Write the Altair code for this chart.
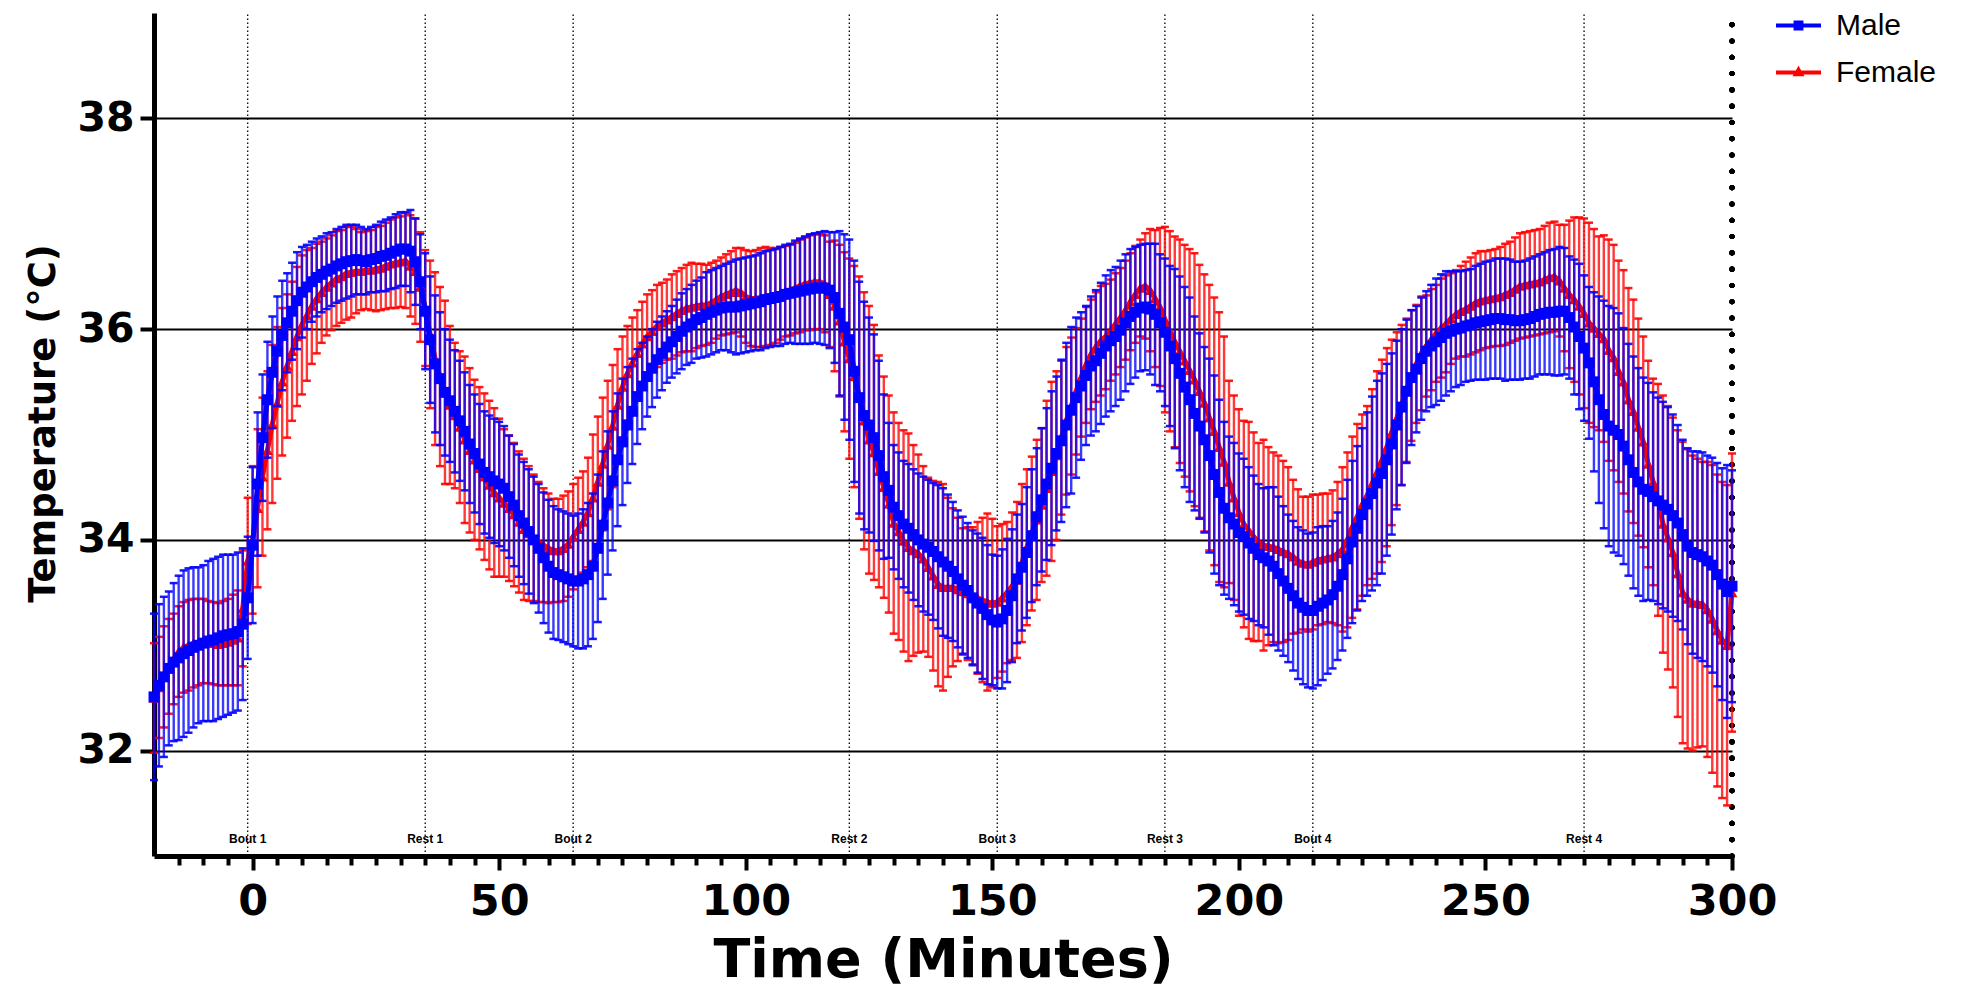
import altair as alt
import pandas as pd

# ---------------- data ----------------
TIME_START = -20
TIME_END = 300
SERIES = ["Male", "Female"]

MALE_MEAN = [
    32.51, 32.62, 32.70, 32.78, 32.84, 32.88, 32.92, 32.95, 32.98, 33.00,
    33.02, 33.04, 33.05, 33.07, 33.09, 33.10, 33.11, 33.13, 33.20, 33.45,
    33.95, 34.53, 34.97, 35.33, 35.59, 35.79, 35.94, 36.06, 36.17, 36.27,
    36.35, 36.40, 36.45, 36.49, 36.52, 36.55, 36.57, 36.60, 36.62, 36.64,
    36.65, 36.66, 36.65, 36.64, 36.66, 36.67, 36.69, 36.70, 36.72, 36.74,
    36.76, 36.76, 36.74, 36.64, 36.45, 36.17, 35.90, 35.67, 35.53, 35.40,
    35.32, 35.22, 35.13, 35.03, 34.91, 34.82, 34.72, 34.64, 34.60, 34.56,
    34.53, 34.49, 34.41, 34.33, 34.23, 34.16, 34.08, 34.00, 33.92, 33.83,
    33.75, 33.69, 33.67, 33.65, 33.63, 33.61, 33.61, 33.63, 33.67, 33.75,
    33.92, 34.14, 34.35, 34.56, 34.76, 34.93, 35.09, 35.22, 35.36, 35.46,
    35.55, 35.63, 35.71, 35.77, 35.83, 35.88, 35.93, 35.98, 36.02, 36.05,
    36.09, 36.11, 36.14, 36.16, 36.18, 36.20, 36.21, 36.21, 36.21, 36.22,
    36.23, 36.24, 36.25, 36.26, 36.28, 36.29, 36.30, 36.31, 36.33, 36.34,
    36.35, 36.36, 36.37, 36.38, 36.39, 36.39, 36.39, 36.37, 36.30, 36.15,
    36.02, 35.90, 35.60, 35.35, 35.18, 35.09, 34.97, 34.80, 34.60, 34.47,
    34.31, 34.23, 34.15, 34.11, 34.05, 34.00, 33.96, 33.93, 33.89, 33.84,
    33.79, 33.75, 33.70, 33.63, 33.57, 33.52, 33.45, 33.40, 33.35, 33.29,
    33.24, 33.22, 33.25, 33.33, 33.47, 33.63, 33.74, 33.88, 34.04, 34.22,
    34.38, 34.53, 34.68, 34.82, 34.94, 35.09, 35.23, 35.35, 35.46, 35.56,
    35.65, 35.70, 35.77, 35.84, 35.89, 35.93, 35.99, 36.06, 36.12, 36.16,
    36.20, 36.21, 36.19, 36.14, 36.06, 35.97, 35.84, 35.72, 35.58, 35.45,
    35.33, 35.20, 35.08, 34.95, 34.80, 34.62, 34.45, 34.30, 34.21, 34.15,
    34.07, 34.03, 33.97, 33.92, 33.86, 33.83, 33.80, 33.75, 33.68, 33.61,
    33.54, 33.47, 33.40, 33.36, 33.33, 33.33, 33.37, 33.40, 33.43, 33.48,
    33.56, 33.67, 33.82, 33.98, 34.11, 34.24, 34.34, 34.44, 34.54, 34.63,
    34.76, 34.91, 35.09, 35.26, 35.41, 35.54, 35.62, 35.72, 35.79, 35.84,
    35.88, 35.92, 35.96, 35.98, 36.00, 36.01, 36.03, 36.04, 36.06, 36.07,
    36.08, 36.09, 36.10, 36.10, 36.09, 36.09, 36.08, 36.08, 36.09, 36.10,
    36.12, 36.14, 36.15, 36.16, 36.16, 36.17, 36.17, 36.11, 36.02, 35.93,
    35.82, 35.68, 35.50, 35.33, 35.19, 35.08, 35.04, 35.00, 34.89, 34.76,
    34.64, 34.55, 34.48, 34.46, 34.41, 34.37, 34.33, 34.29, 34.23, 34.16,
    34.05, 33.94, 33.88, 33.86, 33.84, 33.80, 33.76, 33.67, 33.58, 33.51,
    33.56,
]

MALE_ERR = [
    0.79, 0.77, 0.76, 0.73, 0.75, 0.78, 0.79, 0.78, 0.76, 0.74,
    0.74, 0.76, 0.77, 0.77, 0.77, 0.76, 0.75, 0.75, 0.72, 0.58,
    0.74, 0.68, 0.60, 0.55, 0.53, 0.52, 0.52, 0.47, 0.46, 0.46,
    0.43, 0.40, 0.38, 0.37, 0.36, 0.36, 0.35, 0.35, 0.35, 0.35,
    0.34, 0.33, 0.32, 0.31, 0.31, 0.32, 0.33, 0.34, 0.34, 0.35,
    0.35, 0.35, 0.39, 0.41, 0.45, 0.55, 0.60, 0.65, 0.63, 0.60,
    0.58, 0.58, 0.57, 0.56, 0.56, 0.56, 0.57, 0.58, 0.58, 0.59,
    0.59, 0.59, 0.58, 0.58, 0.58, 0.58, 0.59, 0.60, 0.61, 0.62,
    0.63, 0.63, 0.62, 0.62, 0.62, 0.62, 0.64, 0.66, 0.68, 0.69,
    0.70, 0.70, 0.68, 0.66, 0.63, 0.60, 0.55, 0.50, 0.45, 0.41,
    0.38, 0.37, 0.36, 0.35, 0.34, 0.34, 0.35, 0.36, 0.36, 0.37,
    0.37, 0.38, 0.40, 0.40, 0.40, 0.40, 0.41, 0.43, 0.45, 0.45,
    0.45, 0.45, 0.45, 0.46, 0.46, 0.46, 0.46, 0.47, 0.47, 0.47,
    0.49, 0.50, 0.51, 0.52, 0.52, 0.53, 0.54, 0.55, 0.62, 0.78,
    0.88, 0.95, 1.05, 1.10, 1.08, 1.02, 0.98, 0.90, 0.78, 0.64,
    0.59, 0.60, 0.60, 0.61, 0.62, 0.63, 0.64, 0.64, 0.65, 0.68,
    0.70, 0.68, 0.66, 0.65, 0.65, 0.64, 0.64, 0.66, 0.67, 0.66,
    0.62, 0.63, 0.66, 0.68, 0.63, 0.61, 0.60, 0.62, 0.63, 0.65,
    0.68, 0.72, 0.73, 0.73, 0.77, 0.78, 0.79, 0.76, 0.70, 0.66,
    0.66, 0.67, 0.67, 0.67, 0.67, 0.66, 0.66, 0.65, 0.64, 0.62,
    0.60, 0.60, 0.62, 0.67, 0.65, 0.70, 0.76, 0.85, 0.92, 0.95,
    0.97, 0.92, 0.88, 0.88, 0.92, 0.94, 0.88, 0.82, 0.77, 0.77,
    0.75, 0.74, 0.72, 0.69, 0.67, 0.66, 0.70, 0.75, 0.73, 0.71,
    0.70, 0.71, 0.72, 0.73, 0.73, 0.74, 0.75, 0.73, 0.70, 0.70,
    0.70, 0.72, 0.75, 0.77, 0.78, 0.82, 0.87, 0.92, 0.97, 0.95,
    0.91, 0.86, 0.80, 0.74, 0.68, 0.64, 0.60, 0.58, 0.57, 0.58,
    0.60, 0.60, 0.59, 0.57, 0.55, 0.54, 0.53, 0.53, 0.54, 0.55,
    0.56, 0.56, 0.57, 0.57, 0.58, 0.57, 0.56, 0.56, 0.56, 0.57,
    0.57, 0.57, 0.58, 0.59, 0.60, 0.61, 0.60, 0.58, 0.64, 0.69,
    0.69, 0.72, 0.85, 0.98, 1.08, 1.14, 1.16, 1.15, 1.12, 1.10,
    1.10, 1.08, 1.06, 1.03, 0.99, 0.98, 0.98, 0.97, 0.96, 0.93,
    0.90, 0.93, 0.96, 0.98, 0.99, 1.00, 1.02, 1.06, 1.10, 1.20,
    1.10,
]

FEMALE_MEAN = [
    32.50, 32.60, 32.70, 32.80, 32.87, 32.94, 32.98, 33.00, 33.02, 33.03,
    33.04, 33.03, 33.02, 33.01, 33.02, 33.03, 33.05, 33.07, 33.35, 33.80,
    34.00, 34.30, 34.60, 34.85, 35.10, 35.30, 35.50, 35.65, 35.79, 35.93,
    36.04, 36.13, 36.22, 36.29, 36.35, 36.40, 36.44, 36.48, 36.50, 36.53,
    36.54, 36.55, 36.55, 36.56, 36.56, 36.57, 36.58, 36.60, 36.62, 36.63,
    36.64, 36.65, 36.60, 36.55, 36.40, 36.20, 35.95, 35.72, 35.55, 35.40,
    35.28, 35.18, 35.07, 34.95, 34.85, 34.76, 34.68, 34.60, 34.52, 34.45,
    34.40, 34.35, 34.30, 34.24, 34.17, 34.10, 34.06, 34.02, 33.98, 33.95,
    33.92, 33.90, 33.90, 33.92, 33.96, 34.03, 34.10, 34.17, 34.26, 34.40,
    34.55, 34.72, 34.90, 35.08, 35.28, 35.45, 35.58, 35.68, 35.77, 35.86,
    35.93, 35.98, 36.03, 36.06, 36.09, 36.12, 36.15, 36.18, 36.20, 36.21,
    36.22, 36.23, 36.23, 36.25, 36.28, 36.31, 36.33, 36.35, 36.37, 36.35,
    36.31, 36.29, 36.29, 36.30, 36.31, 36.31, 36.32, 36.34, 36.36, 36.37,
    36.39, 36.41, 36.43, 36.44, 36.45, 36.45, 36.43, 36.33, 36.22, 36.08,
    35.88, 35.72, 35.55, 35.35, 35.13, 34.95, 34.83, 34.65, 34.50, 34.34,
    34.16, 34.08, 33.99, 33.93, 33.90, 33.87, 33.82, 33.74, 33.66, 33.58,
    33.55, 33.55, 33.55, 33.53, 33.51, 33.49, 33.47, 33.45, 33.43, 33.41,
    33.40, 33.41, 33.45, 33.50, 33.56, 33.62, 33.78, 33.93, 34.06, 34.19,
    34.33, 34.49, 34.65, 34.80, 34.97, 35.13, 35.27, 35.41, 35.54, 35.66,
    35.76, 35.83, 35.89, 35.93, 35.99, 36.05, 36.11, 36.18, 36.26, 36.33,
    36.39, 36.41, 36.37, 36.29, 36.21, 36.09, 35.98, 35.88, 35.79, 35.70,
    35.61, 35.52, 35.41, 35.30, 35.16, 35.03, 34.88, 34.74, 34.55, 34.40,
    34.26, 34.15, 34.09, 34.03, 33.98, 33.95, 33.94, 33.93, 33.91, 33.89,
    33.87, 33.84, 33.80, 33.78, 33.77, 33.79, 33.81, 33.82, 33.83, 33.84,
    33.87, 33.91, 34.00, 34.12, 34.22, 34.33, 34.42, 34.53, 34.64, 34.75,
    34.88, 35.02, 35.15, 35.28, 35.42, 35.56, 35.67, 35.77, 35.84, 35.90,
    35.96, 36.01, 36.05, 36.10, 36.14, 36.17, 36.19, 36.22, 36.25, 36.27,
    36.28, 36.29, 36.30, 36.31, 36.33, 36.35, 36.38, 36.41, 36.42, 36.43,
    36.44, 36.45, 36.47, 36.49, 36.50, 36.46, 36.39, 36.33, 36.28, 36.22,
    36.15, 36.06, 36.01, 35.96, 35.91, 35.80, 35.73, 35.60, 35.50, 35.33,
    35.22, 35.07, 34.93, 34.72, 34.55, 34.38, 34.15, 34.02, 33.88, 33.68,
    33.50, 33.44, 33.40, 33.40, 33.39, 33.34, 33.25, 33.14, 33.05, 33.00,
    33.50,
]

FEMALE_ERR = [
    0.52, 0.48, 0.48, 0.45, 0.43, 0.43, 0.43, 0.43, 0.42, 0.41,
    0.40, 0.39, 0.39, 0.39, 0.40, 0.41, 0.43, 0.45, 0.55, 0.60,
    0.70, 0.75, 0.75, 0.75, 0.75, 0.72, 0.70, 0.68, 0.66, 0.66,
    0.66, 0.62, 0.55, 0.52, 0.48, 0.46, 0.45, 0.45, 0.44, 0.44,
    0.43, 0.40, 0.37, 0.37, 0.38, 0.40, 0.40, 0.41, 0.42, 0.43,
    0.43, 0.45, 0.48, 0.50, 0.52, 0.55, 0.70, 0.82, 0.85, 0.87,
    0.75, 0.69, 0.72, 0.79, 0.78, 0.76, 0.77, 0.79, 0.80, 0.80,
    0.75, 0.70, 0.69, 0.68, 0.67, 0.67, 0.64, 0.60, 0.57, 0.54,
    0.52, 0.49, 0.49, 0.50, 0.50, 0.50, 0.49, 0.48, 0.52, 0.60,
    0.62, 0.63, 0.61, 0.58, 0.53, 0.48, 0.45, 0.43, 0.41, 0.40,
    0.40, 0.39, 0.39, 0.38, 0.38, 0.40, 0.40, 0.40, 0.41, 0.42,
    0.40, 0.39, 0.38, 0.38, 0.37, 0.37, 0.38, 0.39, 0.40, 0.42,
    0.44, 0.45, 0.46, 0.47, 0.47, 0.46, 0.45, 0.44, 0.43, 0.43,
    0.43, 0.44, 0.44, 0.45, 0.45, 0.45, 0.46, 0.50, 0.62, 0.72,
    0.85, 0.95, 1.05, 1.15, 1.22, 1.27, 1.21, 1.10, 1.05, 1.03,
    1.05, 1.03, 1.05, 1.08, 1.00, 0.94, 0.88, 0.85, 0.90, 0.97,
    0.98, 0.85, 0.75, 0.68, 0.60, 0.63, 0.65, 0.72, 0.78, 0.84,
    0.80, 0.72, 0.70, 0.67, 0.70, 0.74, 0.75, 0.74, 0.73, 0.76,
    0.73, 0.83, 0.85, 0.80, 0.73, 0.70, 0.65, 0.60, 0.56, 0.55,
    0.52, 0.52, 0.52, 0.50, 0.48, 0.48, 0.47, 0.47, 0.46, 0.46,
    0.46, 0.50, 0.58, 0.65, 0.75, 0.88, 0.95, 1.00, 1.06, 1.10,
    1.15, 1.20, 1.20, 1.22, 1.26, 1.27, 1.28, 1.19, 0.96, 0.97,
    0.98, 0.98, 1.03, 0.99, 0.94, 1.00, 0.94, 0.90, 0.89, 0.86,
    0.82, 0.73, 0.68, 0.63, 0.64, 0.64, 0.62, 0.62, 0.61, 0.63,
    0.68, 0.78, 0.83, 0.86, 0.88, 0.86, 0.85, 0.90, 0.96, 0.96,
    0.94, 0.88, 0.82, 0.76, 0.68, 0.62, 0.56, 0.54, 0.48, 0.48,
    0.46, 0.47, 0.46, 0.43, 0.42, 0.43, 0.45, 0.46, 0.47, 0.47,
    0.46, 0.46, 0.46, 0.47, 0.48, 0.48, 0.49, 0.50, 0.50, 0.50,
    0.50, 0.50, 0.51, 0.52, 0.52, 0.53, 0.60, 0.70, 0.78, 0.84,
    0.90, 0.95, 0.94, 0.92, 0.98, 1.05, 1.07, 1.05, 1.06, 1.06,
    1.06, 1.03, 1.00, 0.98, 0.98, 1.10, 1.22, 1.25, 1.28, 1.36,
    1.43, 1.42, 1.40, 1.37, 1.35, 1.40, 1.46, 1.48, 1.50, 1.52,
    1.32,
]

EVENT_TIMES = [-1, 35, 65, 121, 151, 185, 215, 270]
EVENT_LABELS = ["Bout 1", "Rest 1", "Bout 2", "Rest 2", "Bout 3", "Rest 3", "Bout 4", "Rest 4"]

X_DOMAIN = [-20, 300]
Y_DOMAIN = [31, 39]
X_MAJOR_TICKS = [0, 50, 100, 150, 200, 250, 300]
X_MINOR_TICKS = [v for v in range(-15, 301, 5) if v % 50 != 0]
Y_TICKS = [32, 34, 36, 38]

# ---------------- build tables ----------------
times = list(range(TIME_START, TIME_END + 1))
for arr in (MALE_MEAN, MALE_ERR, FEMALE_MEAN, FEMALE_ERR):
    assert len(arr) == len(times), len(arr)

rows = []
for name, means, errs in (("Male", MALE_MEAN, MALE_ERR), ("Female", FEMALE_MEAN, FEMALE_ERR)):
    for t, m, e in zip(times, means, errs):
        rows.append({"t": t, "sex": name, "mean": m,
                     "lo": round(m - e, 3), "hi": round(m + e, 3)})
df = pd.DataFrame(rows)
events = pd.DataFrame({"t": EVENT_TIMES, "label": EVENT_LABELS})

# ---------------- styles ----------------
BLUE = "#0000FF"
RED = "#FF0000"
BOLD_FONT = "DejaVu Sans"
LABEL_Y = 31.16          # height of the Bout/Rest labels (in °C units)

x_scale = alt.Scale(domain=X_DOMAIN, nice=False, zero=False)
y_scale = alt.Scale(domain=Y_DOMAIN, nice=False, zero=False)

x_main_axis = alt.Axis(
    values=X_MAJOR_TICKS, orient="bottom", grid=False,
    title="Time (Minutes)", titleFont=BOLD_FONT, titleFontSize=54, titleFontWeight="bold",
    titleColor="black", titleX=789, titleY=120, titleBaseline="alphabetic", titleAlign="center",
    tickSize=14, tickWidth=4, tickColor="black",
    domainColor="black", domainWidth=5,
    labelFont=BOLD_FONT, labelFontSize=43, labelFontWeight="bold", labelColor="black",
    labelPadding=44, labelBaseline="alphabetic", labelFlush=False, labelOverlap=False,
)
x_minor_axis = alt.Axis(
    values=X_MINOR_TICKS, orient="bottom", grid=False, labels=False, domain=False,
    tickSize=9, tickWidth=4, tickColor="black", title=None,
)
y_axis = alt.Axis(
    values=Y_TICKS, orient="left", grid=True, gridColor="black", gridWidth=2,
    title="Temperature (°C)", titleFont=BOLD_FONT, titleFontSize=37, titleFontWeight="bold",
    titleColor="black", titleX=-100, titleY=410, titleBaseline="alphabetic", titleAlign="center",
    tickSize=14, tickWidth=4, tickColor="black",
    domainColor="black", domainWidth=5,
    labelFont=BOLD_FONT, labelFontSize=41, labelFontWeight="bold", labelColor="black",
    labelPadding=6, labelFlush=False, labelOverlap=False,
)

# legend symbols: a short line with the series marker in the middle
MALE_SYMBOL = "M-1,-0.09H1V0.09H-1Z M-0.22,-0.22H0.22V0.22H-0.22Z"
FEMALE_SYMBOL = "M-1,-0.09H1V0.09H-1Z M0,-0.3L0.27,0.17H-0.27Z"
legend = alt.Legend(
    title=None, orient="none", legendX=1622, legendY=-10, direction="vertical",
    symbolSize=2025, symbolStrokeWidth=0, symbolOpacity=1,
    labelFont="Liberation Sans", labelFontSize=30, labelColor="black",
    labelOffset=15, rowPadding=9, padding=0,
)

base = alt.Chart(df)


def series_layers(name, color, shape):
    sub = base.transform_filter(alt.datum.sex == name)
    x_plain = alt.X("t:Q", scale=x_scale, axis=None)
    bars = sub.mark_rule(color=color, opacity=0.78, strokeWidth=2.4).encode(
        x=x_plain, y=alt.Y("lo:Q", scale=y_scale, axis=None), y2="hi:Q")
    cap_hi = sub.mark_tick(orient="horizontal", size=8, thickness=2.5, color=color, opacity=0.9).encode(
        x=x_plain, y=alt.Y("hi:Q", scale=y_scale, axis=None))
    cap_lo = sub.mark_tick(orient="horizontal", size=8, thickness=2.5, color=color, opacity=0.9).encode(
        x=x_plain, y=alt.Y("lo:Q", scale=y_scale, axis=None))
    line = sub.mark_line(strokeWidth=5, color=color).encode(
        x=x_plain, y=alt.Y("mean:Q", scale=y_scale, axis=None))
    pts = sub.mark_point(shape=shape, filled=True, size=120, color=color, opacity=1).encode(
        x=x_plain, y=alt.Y("mean:Q", scale=y_scale, axis=None))
    return [bars, cap_hi, cap_lo, line, pts]


# axes layer: carries the main x axis and the y axis (with grid); draws the event lines
event_rules = alt.Chart(events).mark_rule(
    color="black", strokeWidth=1.3, strokeDash=[1.5, 2.5]).encode(
    x=alt.X("t:Q", scale=x_scale, axis=x_main_axis),
    y=alt.Y(datum=Y_DOMAIN[0], scale=y_scale, axis=y_axis),
    y2=alt.Y2(datum=Y_DOMAIN[1]),
)
event_text = alt.Chart(events).mark_text(
    font="Liberation Sans", fontSize=12, fontWeight="bold", color="black",
    align="center", baseline="middle").encode(
    x=alt.X("t:Q", scale=x_scale, axis=None),
    y=alt.Y(datum=LABEL_Y, scale=y_scale, axis=None),
    text="label:N",
)
right_border = alt.Chart(events).mark_rule(
    color="black", strokeWidth=5, strokeDash=[0.1, 16.2], strokeCap="round").encode(
    x=alt.X(datum=X_DOMAIN[1], scale=x_scale, axis=x_minor_axis),
    y=alt.Y(datum=Y_DOMAIN[0], scale=y_scale, axis=None),
    y2=alt.Y2(datum=Y_DOMAIN[1]),
)

# legend-only layer: y is null so no mark is drawn, but the legend is built
legend_layer = base.transform_calculate(nothing="null").mark_point(filled=True, opacity=1).encode(
    x=alt.X("t:Q", scale=x_scale, axis=None),
    y=alt.Y("nothing:Q", scale=y_scale, axis=None),
    color=alt.Color("sex:N", scale=alt.Scale(domain=SERIES, range=[BLUE, RED]), legend=legend),
    shape=alt.Shape("sex:N", scale=alt.Scale(domain=SERIES, range=[MALE_SYMBOL, FEMALE_SYMBOL]),
                    legend=legend),
)

layers = [event_rules, event_text, right_border]
layers += series_layers("Female", RED, "triangle-up")
layers += series_layers("Male", BLUE, "square")
layers.append(legend_layer)

chart = alt.layer(*layers).resolve_axis(x="independent", y="independent").properties(
    width=1578, height=843,
    autosize=alt.AutoSizeParams(type="none"),
    padding={"left": 146, "top": 5, "right": 230, "bottom": 135},
    background="white",
).configure_view(strokeWidth=0)

chart.save("out.html", embed_options={"renderer": "svg", "actions": False})
